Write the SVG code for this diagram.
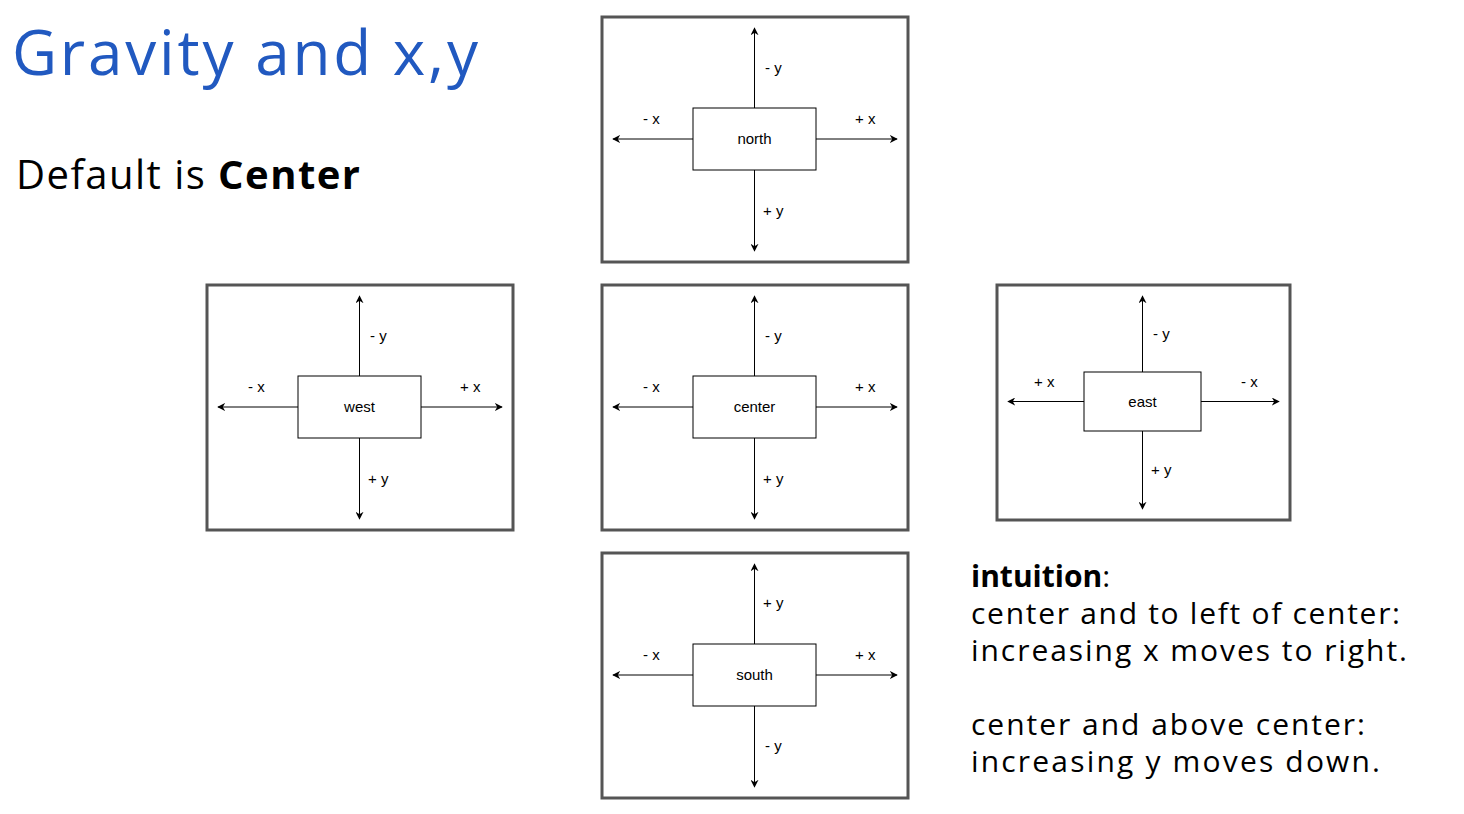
<svg xmlns="http://www.w3.org/2000/svg" width="1464" height="814" viewBox="0 0 1464 814">
<style>
.frame{fill:#fff;stroke:#555;stroke-width:3}
.box{fill:#fff;stroke:#000;stroke-width:1}
.ax{stroke:#000;stroke-width:1;fill:none;marker-end:url(#ah)}
.lb{font-family:"Liberation Sans",Arial,sans-serif;font-size:15px;fill:#000}
.nm{font-family:"Liberation Sans",Arial,sans-serif;font-size:15px;fill:#000;text-anchor:middle}
.t{font-family:"Open Sans",sans-serif;fill:#000}
</style>
<defs><marker id="ah" viewBox="0 0 10 10" refX="9" refY="5" markerWidth="8" markerHeight="8" markerUnits="userSpaceOnUse" orient="auto"><path d="M0,0 L10,5 L0,10 L3,5 z" fill="#000"/></marker></defs>
<rect width="1464" height="814" fill="#fff"/>
<text x="12" y="75" font-family="'Open Sans',sans-serif" font-size="62" fill="#2159c0" textLength="466">Gravity and x,y</text>
<text class="t" x="16" y="189" font-size="40" textLength="344">Default is <tspan font-weight="bold">Center</tspan></text>
<g id="frames">
<rect class="frame" x="602" y="17" width="306" height="245"/>
<rect class="frame" x="207" y="285" width="306" height="245"/>
<rect class="frame" x="602" y="285" width="306" height="245"/>
<rect class="frame" x="602" y="553" width="306" height="245"/>
<rect class="frame" x="997" y="285" width="293" height="235"/>
</g>
<g id="connectors">
<line class="ax" x1="754.5" y1="108" x2="754.5" y2="28"/><line class="ax" x1="754.5" y1="170" x2="754.5" y2="251"/><line class="ax" x1="693" y1="139" x2="613" y2="139"/><line class="ax" x1="816" y1="139" x2="897" y2="139"/>
<line class="ax" x1="359.5" y1="376" x2="359.5" y2="296"/><line class="ax" x1="359.5" y1="438" x2="359.5" y2="519"/><line class="ax" x1="298" y1="407" x2="218" y2="407"/><line class="ax" x1="421" y1="407" x2="502" y2="407"/>
<line class="ax" x1="754.5" y1="376" x2="754.5" y2="296"/><line class="ax" x1="754.5" y1="438" x2="754.5" y2="519"/><line class="ax" x1="693" y1="407" x2="613" y2="407"/><line class="ax" x1="816" y1="407" x2="897" y2="407"/>
<line class="ax" x1="754.5" y1="644" x2="754.5" y2="564"/><line class="ax" x1="754.5" y1="706" x2="754.5" y2="787"/><line class="ax" x1="693" y1="675" x2="613" y2="675"/><line class="ax" x1="816" y1="675" x2="897" y2="675"/>
<line class="ax" x1="1142.5" y1="372" x2="1142.5" y2="296"/><line class="ax" x1="1142.5" y1="431" x2="1142.5" y2="509"/><line class="ax" x1="1084" y1="401.5" x2="1008" y2="401.5"/><line class="ax" x1="1201" y1="401.5" x2="1279" y2="401.5"/>
</g>
<g id="north"><rect class="box" x="693" y="108" width="123" height="62"/><text class="nm" x="754.5" y="144">north</text>
<text class="lb" x="765" y="73">- y</text><text class="lb" x="763" y="216">+ y</text><text class="lb" x="643" y="124">- x</text><text class="lb" x="855" y="124">+ x</text></g>
<g id="west"><rect class="box" x="298" y="376" width="123" height="62"/><text class="nm" x="359.5" y="412">west</text>
<text class="lb" x="370" y="341">- y</text><text class="lb" x="368" y="484">+ y</text><text class="lb" x="248" y="392">- x</text><text class="lb" x="460" y="392">+ x</text></g>
<g id="center"><rect class="box" x="693" y="376" width="123" height="62"/><text class="nm" x="754.5" y="412">center</text>
<text class="lb" x="765" y="341">- y</text><text class="lb" x="763" y="484">+ y</text><text class="lb" x="643" y="392">- x</text><text class="lb" x="855" y="392">+ x</text></g>
<g id="south"><rect class="box" x="693" y="644" width="123" height="62"/><text class="nm" x="754.5" y="680">south</text>
<text class="lb" x="763" y="608">+ y</text><text class="lb" x="765" y="751">- y</text><text class="lb" x="643" y="660">- x</text><text class="lb" x="855" y="660">+ x</text></g>
<g id="east"><rect class="box" x="1084" y="372" width="117" height="59"/><text class="nm" x="1142.5" y="407">east</text>
<text class="lb" x="1153" y="339">- y</text><text class="lb" x="1151" y="475">+ y</text><text class="lb" x="1034" y="387">+ x</text><text class="lb" x="1241" y="387">- x</text></g>
<g font-family="'Open Sans',sans-serif" font-size="30" fill="#000">
<text x="971" y="587"><tspan font-weight="bold">intuition</tspan>:</text>
<text x="971" y="624" textLength="429">center and to left of center:</text>
<text x="971" y="661" textLength="436">increasing x moves to right.</text>
<text x="971" y="735" textLength="394">center and above center:</text>
<text x="971" y="772" textLength="409">increasing y moves down.</text>
</g>
</svg>
